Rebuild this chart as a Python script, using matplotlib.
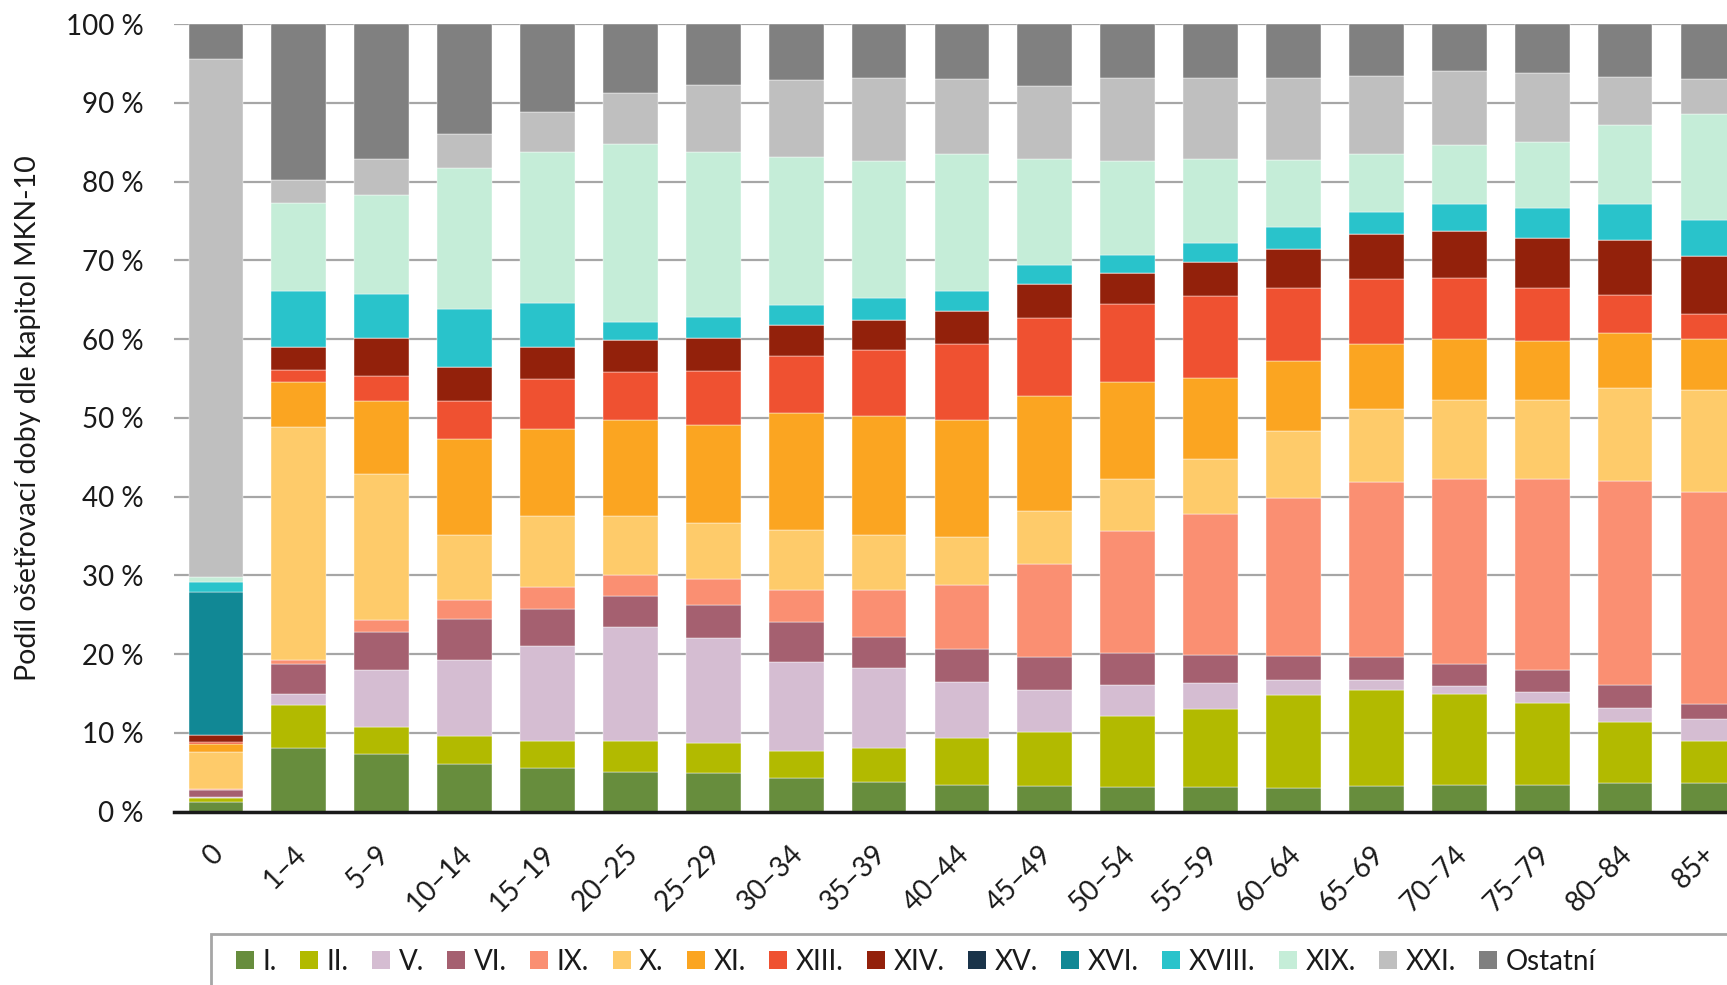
import matplotlib
matplotlib.use("Agg")
import matplotlib.pyplot as plt
import matplotlib.transforms as mtransforms
import numpy as np
from matplotlib.patches import Patch, Rectangle

plt.rcParams['font.family'] = ['Lato', 'DejaVu Sans']

vekove_skupiny = ['0', '1–4', '5–9', '10–14', '15–19', '20–25', '25–29', '30–34',
                  '35–39', '40–44', '45–49', '50–54', '55–59', '60–64', '65–69',
                  '70–74', '75–79', '80–84', '85+']

kapitoly = ['I.', 'II.', 'V.', 'VI.', 'IX.', 'X.', 'XI.', 'XIII.', 'XIV.', 'XV.',
            'XVI.', 'XVIII.', 'XIX.', 'XXI.', 'Ostatní']

barvy = ['#678D3D', '#B2BA00', '#D5BDD2', '#A56070', '#FA8F72', '#FECB6A', '#FBA521',
         '#EF5131', '#93210B', '#1A344A', '#118895', '#29C3CB', '#C5EDD8', '#BFBFBF',
         '#808080']

# podily v % (po vekovych skupinach)
kap_I     = [1.2, 8.1, 7.3, 6.1, 5.6, 5.0, 4.9, 4.3, 3.8, 3.4, 3.3, 3.1, 3.1, 3.0, 3.2, 3.4, 3.4, 3.6, 3.7]
kap_II    = [0.55, 5.4, 3.5, 3.5, 3.4, 4.0, 3.8, 3.4, 4.3, 5.9, 6.8, 9.0, 9.9, 11.8, 12.2, 11.5, 10.4, 7.8, 5.3]
kap_V     = [0.15, 1.4, 7.2, 9.6, 12.0, 14.4, 13.3, 11.3, 10.2, 7.2, 5.4, 4.0, 3.3, 1.9, 1.3, 1.0, 1.4, 1.8, 2.8]
kap_VI    = [0.85, 3.9, 4.8, 5.3, 4.7, 4.0, 4.3, 5.1, 3.9, 4.2, 4.1, 4.0, 3.6, 3.1, 2.9, 2.8, 2.8, 2.9, 1.9]
kap_IX    = [0.1, 0.5, 1.5, 2.4, 2.8, 2.6, 3.3, 4.1, 5.9, 8.1, 11.9, 15.5, 17.9, 20.0, 22.2, 23.6, 24.2, 25.9, 26.9]
kap_X     = [4.75, 29.6, 18.6, 8.2, 9.0, 7.6, 7.0, 7.6, 7.0, 6.1, 6.7, 6.7, 7.0, 8.5, 9.3, 10.0, 10.1, 11.8, 13.0]
kap_XI    = [1.0, 5.7, 9.3, 12.2, 11.1, 12.1, 12.5, 14.8, 15.2, 14.8, 14.6, 12.3, 10.3, 8.9, 8.3, 7.7, 7.4, 7.0, 6.4]
kap_XIII  = [0.2, 1.5, 3.1, 4.9, 6.3, 6.1, 6.8, 7.3, 8.3, 9.7, 9.9, 9.8, 10.4, 9.3, 8.2, 7.7, 6.8, 4.8, 3.2]
kap_XIV   = [0.9, 2.9, 4.8, 4.3, 4.1, 4.1, 4.2, 3.9, 3.8, 4.2, 4.3, 4.0, 4.3, 5.0, 5.8, 6.0, 6.3, 7.0, 7.3]
kap_XV    = [0.0] * 19
kap_XVI   = [18.2] + [0.0] * 18
kap_XVIII = [1.2, 7.1, 5.6, 7.3, 5.6, 2.3, 2.7, 2.5, 2.8, 2.5, 2.4, 2.3, 2.4, 2.7, 2.7, 3.4, 3.8, 4.6, 4.6]
kap_XIX   = [0.7, 11.2, 12.6, 17.9, 19.2, 22.6, 21.0, 18.8, 17.4, 17.4, 13.5, 11.9, 10.7, 8.6, 7.4, 7.6, 8.4, 10.0, 13.5]
kap_XXI   = [65.8, 2.9, 4.6, 4.3, 5.0, 6.5, 8.5, 9.8, 10.5, 9.5, 9.3, 10.5, 10.3, 10.4, 9.9, 9.4, 8.8, 6.1, 4.4]
ostatni   = [4.4, 19.8, 17.1, 14.0, 11.2, 8.7, 7.7, 7.1, 6.9, 7.0, 7.8, 6.9, 6.8, 6.8, 6.6, 5.9, 6.2, 6.7, 7.0]

serie = [kap_I, kap_II, kap_V, kap_VI, kap_IX, kap_X, kap_XI, kap_XIII, kap_XIV,
         kap_XV, kap_XVI, kap_XVIII, kap_XIX, kap_XXI, ostatni]

data = np.array(serie, dtype=float)
data = data / data.sum(axis=0) * 100  # dorovnat na 100 %

W, H = 1727, 985
fig = plt.figure(figsize=(W / 100, H / 100), dpi=100)
ax = fig.add_axes([0.101, 0.176, 0.912, 0.7995])

x = np.arange(len(vekove_skupiny))
dno = np.zeros(len(x))
for i in range(len(kapitoly)):
    ax.bar(x, data[i], bottom=dno, width=0.66, color=barvy[i], zorder=3,
           edgecolor='white', linewidth=0.3)
    dno += data[i]

ax.set_xlim(-0.5, 18.5)
ax.set_ylim(0, 100)
ax.set_yticks(np.arange(0, 101, 10))
ax.set_yticklabels(['%d %%' % v for v in range(0, 101, 10)], fontsize=20, color='#1a1a1a')
ax.yaxis.grid(True, color='#A6A6A6', linewidth=1.6, zorder=0)
ax.tick_params(axis='y', length=0, pad=22)
ax.tick_params(axis='x', length=0, pad=21)
ax.set_xticks(x)
ax.set_xticklabels(vekove_skupiny, fontsize=20, rotation=45, ha='right',
                   va='top', rotation_mode='anchor', color='#1a1a1a')
posun = mtransforms.ScaledTranslation(-6 / 100, 0, fig.dpi_scale_trans)
for lbl in ax.get_xticklabels():
    lbl.set_transform(lbl.get_transform() + posun)

for s in ['top', 'right', 'left']:
    ax.spines[s].set_visible(False)
ax.spines['bottom'].set_color('#1a1a1a')
ax.spines['bottom'].set_linewidth(2.5)
ax.spines['bottom'].set_zorder(4)

ax.set_ylabel('Podíl ošetřovací doby dle kapitol MKN-10', fontsize=20.5,
              labelpad=18, color='#1a1a1a')

# ramecek legendy (presahuje okraj obrazku jako v originale)
fig.patches.append(Rectangle((211 / W, -0.05), 1.0, 0.05 + (H - 934) / H,
                             transform=fig.transFigure, facecolor='none',
                             edgecolor='#A6A6A6', linewidth=2))

handles = [Patch(facecolor=barvy[i], edgecolor='none') for i in range(len(kapitoly))]
leg = fig.legend(handles, kapitoly, loc='upper left', bbox_to_anchor=(215 / W, 1 - 928 / H),
                 ncol=15, fontsize=20, frameon=False, borderaxespad=0,
                 handlelength=0.65, handleheight=0.65, handletextpad=0.3,
                 columnspacing=0.85, borderpad=0.75, bbox_transform=fig.transFigure)
for t in leg.get_texts():
    t.set_color('#1a1a1a')

fig.savefig('out.png', dpi=100)
